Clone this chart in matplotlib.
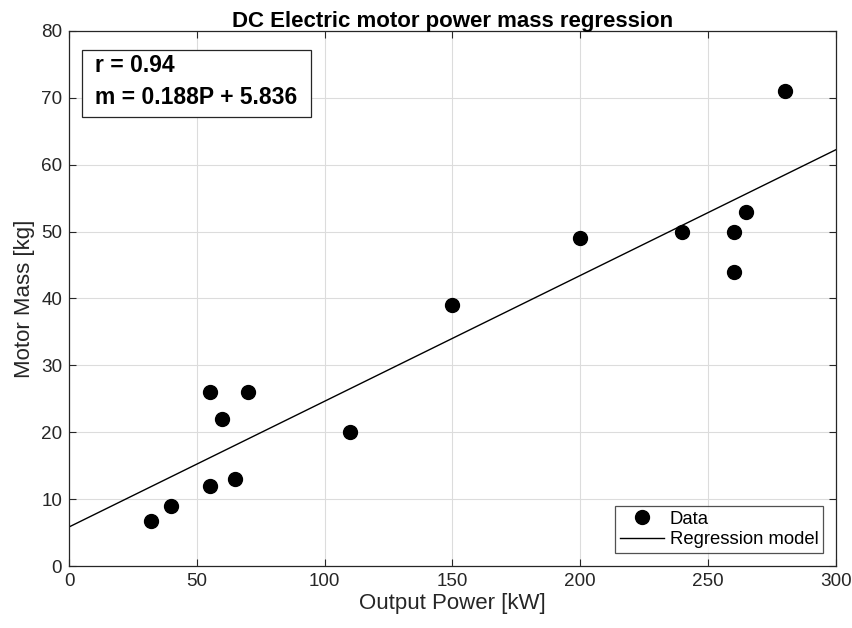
import matplotlib
matplotlib.use('Agg')
import matplotlib.pyplot as plt
from matplotlib.patches import Rectangle
import numpy as np

plt.rcParams['font.family'] = ['Liberation Sans', 'DejaVu Sans']

# data
power_kw = [32, 40, 55, 55, 60, 65, 70, 110, 150, 200, 240, 260, 260, 265, 280]
mass_kg = [6.8, 9, 26, 12, 22, 13, 26, 20, 39, 49, 50, 50, 44, 53, 71]
slope = 0.188
intercept = 5.836
r_value = 0.94

fig = plt.figure(figsize=(8.52, 6.28), dpi=100)
ax = fig.add_axes([0.081, 0.0987, 0.9, 0.852])

ax.plot(power_kw, mass_kg, 'o', color='black', markersize=10, label='Data')
px = np.linspace(0, 300, 2)
ax.plot(px, slope * px + intercept, '-', color='black', linewidth=1.0, label='Regression model')

ax.set_xlim(0, 300)
ax.set_ylim(0, 80)
ax.set_xticks(np.arange(0, 301, 50))
ax.set_yticks(np.arange(0, 81, 10))
ax.grid(True, color='#dcdcdc', linewidth=0.8)
ax.set_axisbelow(True)
ax.tick_params(direction='in', top=True, right=True, labelsize=13.6, colors='#262626', length=5, pad=5)
for s in ax.spines.values():
    s.set_color('#262626')
    s.set_linewidth(0.9)

ax.set_xlabel('Output Power [kW]', fontsize=16, color='#262626', labelpad=2)
ax.set_ylabel('Motor Mass [kg]', fontsize=16, color='#262626', labelpad=4)
ax.set_title('DC Electric motor power mass regression', fontsize=16, fontweight='bold', pad=3)

# annotation box (MATLAB style textbox)
ax.add_patch(Rectangle((0.017, 0.839), 0.2985, 0.1255, transform=ax.transAxes,
                       facecolor='white', edgecolor='#262626', linewidth=0.9, zorder=5))
ax.text(0.034, 0.9346, 'r = %.2f' % r_value, transform=ax.transAxes, ha='left', va='center',
        fontsize=16.5, fontweight='bold', zorder=6)
ax.text(0.034, 0.8748, 'm = %.3fP + %.3f' % (slope, intercept), transform=ax.transAxes,
        ha='left', va='center', fontsize=16.5, fontweight='bold', zorder=6)

leg = ax.legend(loc='lower right', fontsize=13.3, frameon=True, fancybox=False,
                edgecolor='#262626', borderpad=0.25, labelspacing=0.2, handlelength=2.4,
                handletextpad=0.3, borderaxespad=0.7)
leg.get_frame().set_linewidth(0.9)

fig.savefig('out.png', dpi=100)
